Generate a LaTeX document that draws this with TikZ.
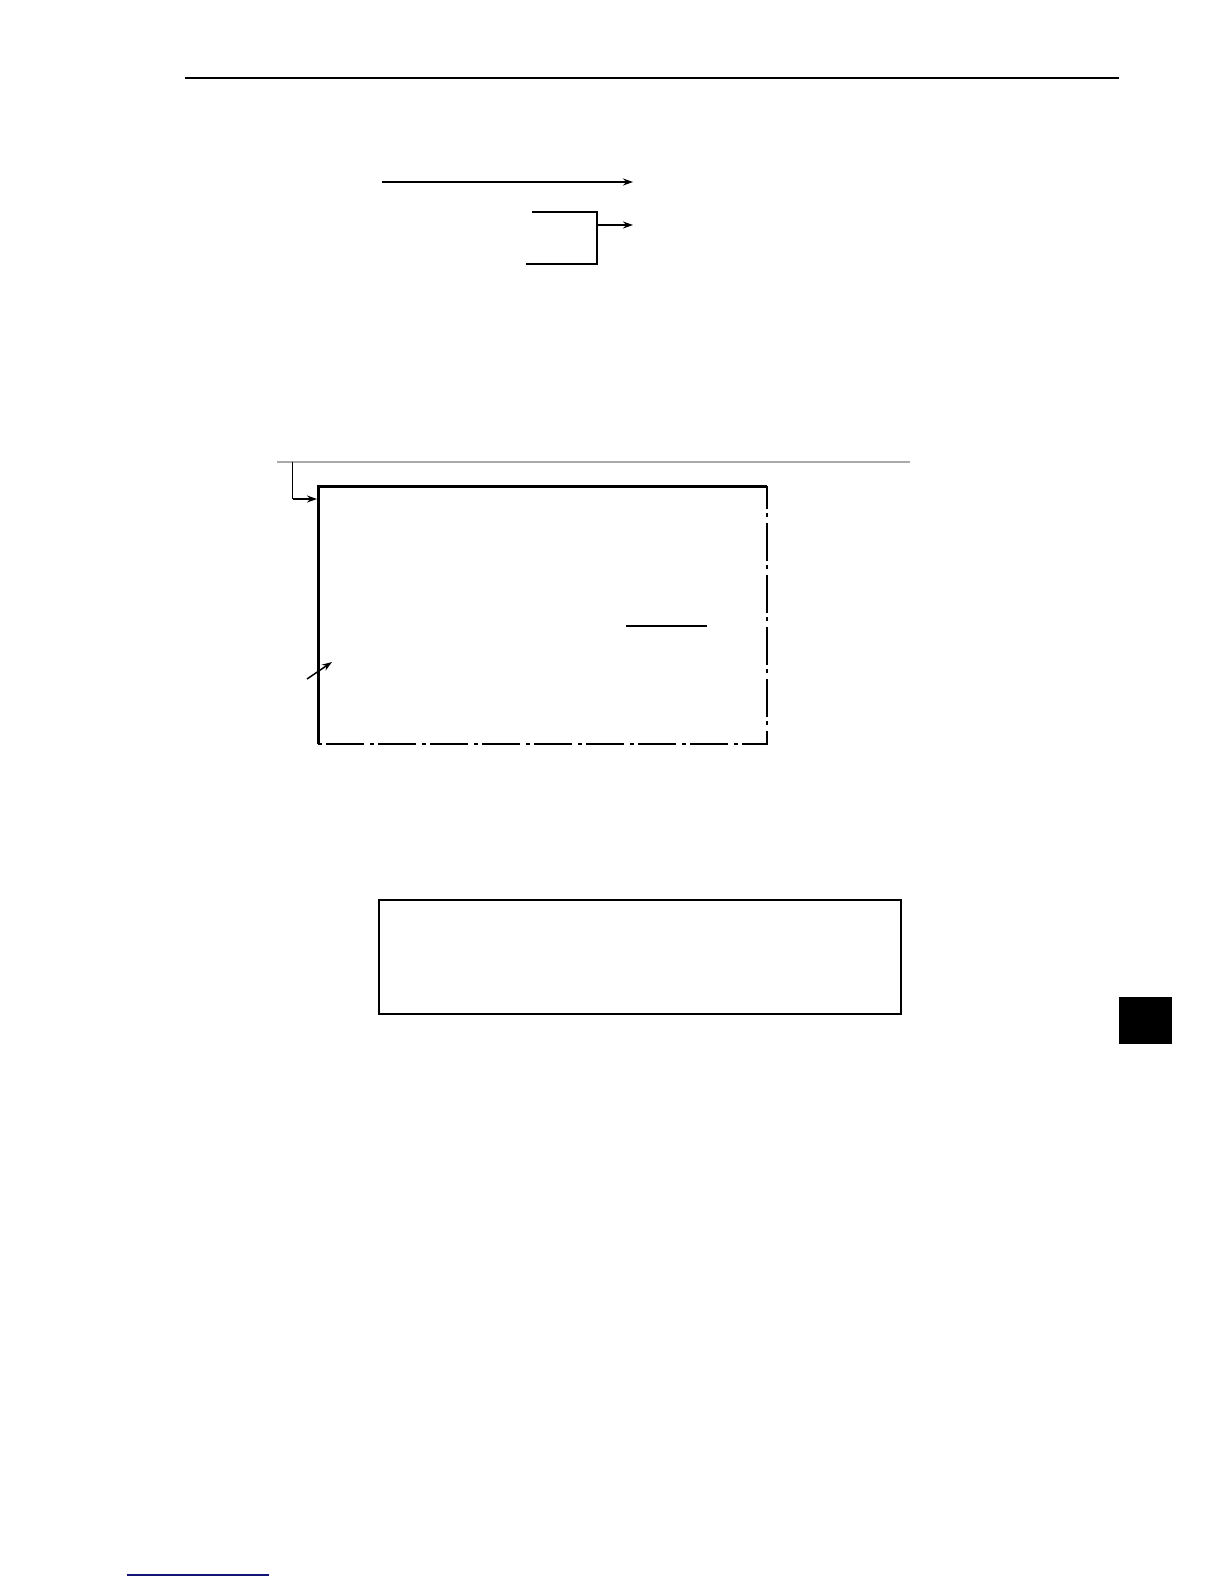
\documentclass[tikz,border=0pt]{standalone}
\usetikzlibrary{arrows.meta}
\definecolor{rulegray}{RGB}{170,170,170}
\definecolor{linknavy}{RGB}{20,20,120}
\tikzset{
  thinline/.style={line width=1.5pt, black},
  arr/.style={thinline, -{Stealth[length=10pt,width=7pt]}},
  framebold/.style={line width=3pt, black},
  dashdot/.style={line width=2pt, black, dash pattern=on 38pt off 4pt on 4pt off 6pt, dash phase=15pt},
}
\begin{document}
\begin{tikzpicture}[x=1pt,y=-1pt]
\useasboundingbox (0,0) rectangle (1224,1584);
% header rule
\coordinate (hl) at (185,78); \coordinate (hr) at (1119,78);
\draw[thinline] (hl) -- (hr);
% top arrows
\coordinate (a1s) at (382,182); \coordinate (a1e) at (633,182);
\draw[arr] (a1s) -- (a1e);
\coordinate (bt) at (532,212); \coordinate (bb) at (526,264);
\coordinate (bv) at (597,212); \coordinate (bvb) at (597,264);
\coordinate (bm) at (597,225); \coordinate (be) at (633,225);
\draw[thinline] (bt) -- (bv) -- (bvb) -- (bb);
\draw[arr] (bm) -- (be);
% gray rule
\coordinate (gl) at (277,462); \coordinate (gr) at (910,462);
\draw[line width=2.5pt, rulegray] (gl) -- (gr);
% frame
\coordinate (tl) at (318,486); \coordinate (tr) at (767,486);
\coordinate (br) at (767,744); \coordinate (bl) at (318,744);
\draw[dashdot] (tr) -- (br) -- (bl);
\draw[framebold] (bl) -- (tl) -- (tr);
% leader from gray rule to frame corner
\coordinate (ls) at (292.5,462); \coordinate (lc) at (292.5,499);
\coordinate (le) at (317,499);
\draw[thinline] (ls) -- (lc);
\draw[arr] (lc) -- (le);
% small pointer arrow
\coordinate (ps) at (307,679); \coordinate (pe) at (332,662);
\draw[arr] (ps) -- (pe);
% underline
\coordinate (ul) at (626,626); \coordinate (ur) at (707,626);
\draw[thinline] (ul) -- (ur);
% lower box
\coordinate (b2a) at (379,900); \coordinate (b2b) at (901,1014);
\draw[line width=2pt] (b2a) rectangle (b2b);
% black tab
\coordinate (sqa) at (1119,997); \coordinate (sqb) at (1172,1044);
\fill[black] (sqa) rectangle (sqb);
% bottom link line
\coordinate (kl) at (127,1575); \coordinate (kr) at (269,1575);
\draw[line width=1.5pt, linknavy] (kl) -- (kr);
\end{tikzpicture}
\end{document}
